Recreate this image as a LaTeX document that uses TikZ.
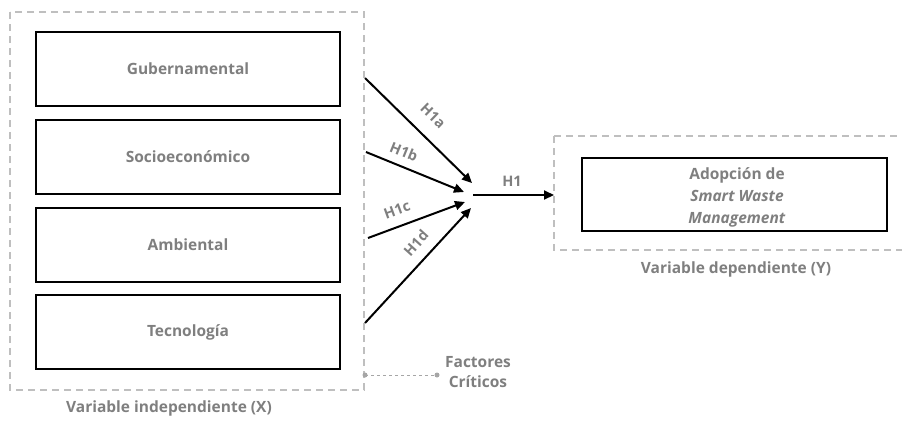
\documentclass[tikz,border=0pt]{standalone}
\usepackage{fontspec}
\setmainfont{Open Sans}
\usetikzlibrary{arrows.meta}
\definecolor{txtgray}{HTML}{7F7F7F}
\definecolor{dashgray}{HTML}{BFBFBF}
\definecolor{dotgray}{HTML}{A6A6A6}
\tikzset{
  varbox/.style={draw=black, line width=1.6pt, minimum width=304pt, minimum height=74pt, inner sep=0pt, font=\bfseries\fontsize{15.5}{18}\selectfont, text=txtgray},
  groupbox/.style={draw=dashgray, line width=1.3pt, dash pattern=on 7pt off 5pt},
  lbl/.style={font=\bfseries\fontsize{15.5}{18}\selectfont, text=txtgray, align=center},
  hyp/.style={font=\bfseries\fontsize{14.5}{16}\selectfont, text=txtgray, inner sep=1pt},
  harrow/.style={line width=2pt, -{Triangle[length=10pt,width=9pt]}},
}
\begin{document}
\begin{tikzpicture}[x=1pt,y=-1pt]
\useasboundingbox (0,0) rectangle (902,424);
% group boxes
\draw[groupbox] (10,12) rectangle (364,390);
\draw[groupbox] (554,136) -- (902,136);
\draw[groupbox] (554,136) -- (554,250) -- (902,250);
% variable boxes
\node[varbox] (gub) at (188,69) {Gubernamental};
\node[varbox] (soc) at (188,157) {Socioeconómico};
\node[varbox] (amb) at (188,245) {Ambiental};
\node[varbox] (tec) at (188,332) {Tecnología};
\node[varbox, minimum width=305pt, minimum height=73pt] (swm) at (734.5,194.5) {};
\node[lbl, font=\bfseries\fontsize{15.5}{22}\selectfont] (swmtxt) at (737,197) {Adopción de\\\textit{Smart Waste}\\\textit{Management}};
% arrow endpoints
\coordinate (sa) at (365,78);
\coordinate (sb) at (366,152);
\coordinate (sc) at (368,238);
\coordinate (sd) at (365,323);
\coordinate (ea) at (472,183);
\coordinate (eb) at (464,192);
\coordinate (ec) at (465,202);
\coordinate (ed) at (471,208);
\coordinate (h0) at (473,195);
\coordinate (h1) at (554,195);
\draw[harrow] (sa) -- (ea);
\draw[harrow] (sb) -- (eb);
\draw[harrow] (sc) -- (ec);
\draw[harrow] (sd) -- (ed);
\draw[harrow] (h0) -- (h1);
\node[hyp, rotate=-44] (la) at (433,116) {H1a};
\node[hyp, rotate=-22] (lb) at (404,152) {H1b};
\node[hyp, rotate=20] (lc) at (397,210) {H1c};
\node[hyp, rotate=48] (ld) at (416,243) {H1d};
\node[hyp] (lh) at (512,181) {H1};
% labels
\node[lbl] (indep) at (169,408) {Variable independiente (X)};
\node[lbl] (dep) at (736,269) {Variable dependiente (Y)};
\node[lbl, font=\bfseries\fontsize{15.5}{20}\selectfont] (fc) at (478,372) {Factores\\Críticos};
\coordinate (fa) at (365,375);
\coordinate (fb) at (437,375);
\draw[dotgray, line width=1pt, dash pattern=on 3pt off 3pt] (fa) -- (fb);
\fill[dotgray] (fa) circle (2.5pt) (fb) circle (2.5pt);
\end{tikzpicture}
\end{document}
